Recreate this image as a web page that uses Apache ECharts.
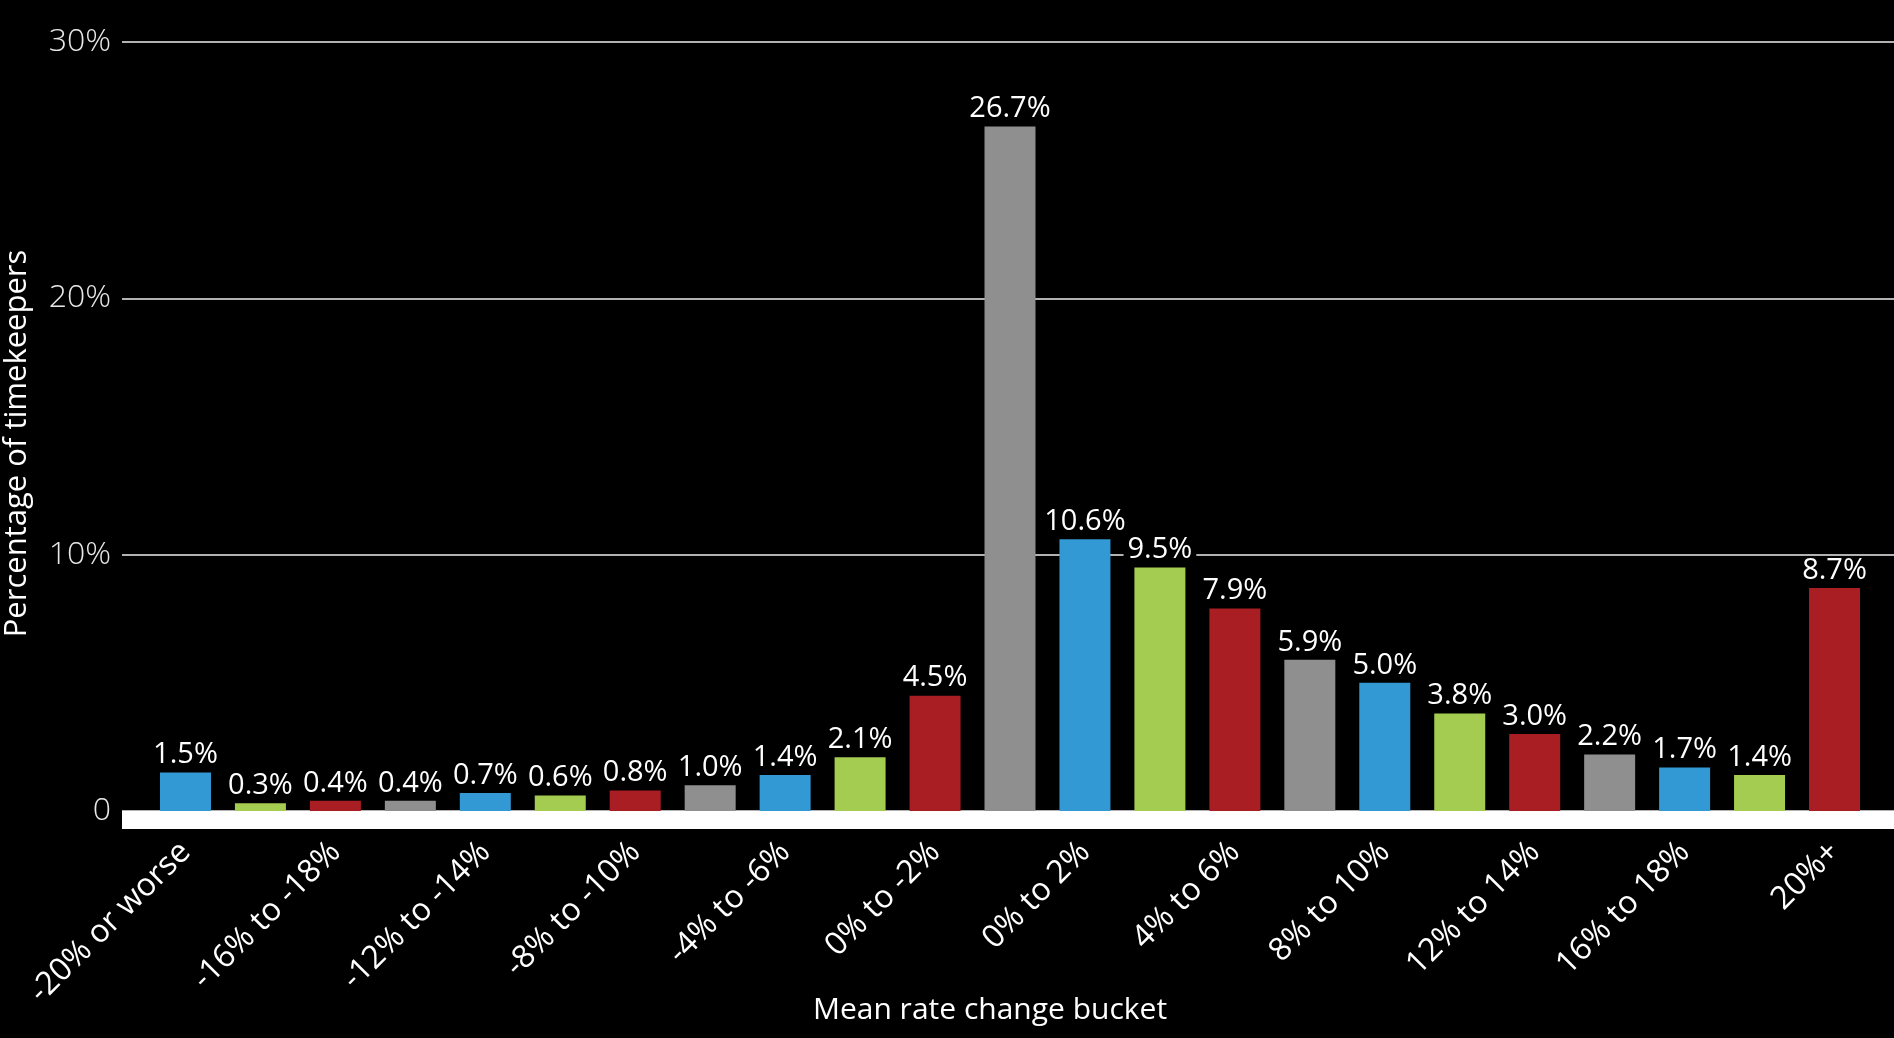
<!DOCTYPE html>
<html>
<head>
<meta charset="utf-8">
<title>Mean rate change bucket</title>
<script src="https://cdn.jsdelivr.net/npm/echarts@6/dist/echarts.min.js"></script>
<style>
  html, body { margin: 0; padding: 0; background: #000; }
  #chart { width: 1894px; height: 1038px; }
</style>
</head>
<body>
<div id="chart"></div>
<script>
// Rate-change buckets (x categories)
const buckets = [
  "-20% or worse", "-18% to -20%", "-16% to -18%", "-14% to -16%",
  "-12% to -14%", "-10% to -12%", "-8% to -10%", "-6% to -8%",
  "-4% to -6%", "-2% to -4%", "0% to -2%", "0%",
  "0% to 2%", "2% to 4%", "4% to 6%", "6% to 8%",
  "8% to 10%", "10% to 12%", "12% to 14%", "14% to 16%",
  "16% to 18%", "18% to 20%", "20%+"
];

// Share of timekeepers in each bucket (%)
const shares = [
  1.5, 0.3, 0.4, 0.4, 0.7, 0.6, 0.8, 1.0, 1.4, 2.1, 4.5, 26.7,
  10.6, 9.5, 7.9, 5.9, 5.0, 3.8, 3.0, 2.2, 1.7, 1.4, 8.7
];

// Y-axis ticks (%)
const yTicks = [0, 10, 20, 30];

// Bar colours, cycled across buckets
const palette = ["#3399d4", "#a4cc50", "#a91e23", "#8f8f8f"];

const FONT = "'Open Sans', 'Noto Sans', sans-serif";

const chart = echarts.init(document.getElementById('chart'), null, { renderer: 'canvas' });

const option = {
  backgroundColor: '#000',
  animation: false,
  grid: [
    // full-width frame: gridlines, zero band, y labels
    { left: 122, right: 0, top: 42, bottom: 227, outerBoundsMode: 'none' },
    // bar area
    { left: 148, right: 22, top: 42, bottom: 227, outerBoundsMode: 'none' }
  ],
  xAxis: [
    {
      gridIndex: 0,
      type: 'value',
      min: 0, max: 1,
      offset: 9,
      axisLine: { show: true, onZero: false, lineStyle: { color: '#ffffff', width: 18, cap: 'butt' } },
      axisTick: { show: false },
      axisLabel: { show: false },
      splitLine: { show: false },
      name: 'Mean rate change bucket',
      nameLocation: 'middle',
      nameGap: 175,
      nameTextStyle: { color: '#ffffff', fontSize: 30, fontFamily: FONT, padding: [0, 36, 0, 0] }
    },
    {
      gridIndex: 1,
      type: 'category',
      data: buckets,
      axisLine: { show: false },
      axisTick: { show: false },
      axisLabel: {
        interval: 1,
        rotate: 45,
        margin: 36,
        color: '#ffffff',
        fontSize: 32,
        fontFamily: FONT
      }
    }
  ],
  yAxis: [
    {
      gridIndex: 0,
      type: 'value',
      min: yTicks[0],
      max: yTicks[yTicks.length - 1],
      interval: 10,
      axisLine: { show: false },
      axisTick: { show: false },
      axisLabel: {
        margin: 11,
        color: '#e8e8e8',
        fontSize: 32,
        fontWeight: 300,
        fontFamily: FONT,
        formatter: v => (v === 0 ? '0' : v + '%')
      },
      splitLine: { show: true, lineStyle: { color: '#eeeeee', width: 1.5 } },
      name: 'Percentage of timekeepers',
      nameLocation: 'middle',
      nameRotate: 90,
      nameGap: 89,
      nameTextStyle: { color: '#ffffff', fontSize: 31, fontFamily: FONT, padding: [0, 34, 0, 0] }
    },
    {
      gridIndex: 1,
      type: 'value',
      min: yTicks[0],
      max: yTicks[yTicks.length - 1],
      show: false,
      splitLine: { show: false }
    }
  ],
  series: [
    {
      type: 'bar',
      xAxisIndex: 1,
      yAxisIndex: 1,
      barWidth: 51,
      data: shares.map((v, i) => ({
        value: v,
        itemStyle: { color: palette[i % palette.length] }
      })),
      label: {
        show: true,
        position: 'top',
        distance: 3,
        color: '#ffffff',
        fontSize: 29,
        fontFamily: FONT,
        backgroundColor: '#000000',
        padding: [0, 4],
        formatter: p => p.value.toFixed(1) + '%'
      }
    }
  ]
};

chart.setOption(option);
</script>
</body>
</html>
